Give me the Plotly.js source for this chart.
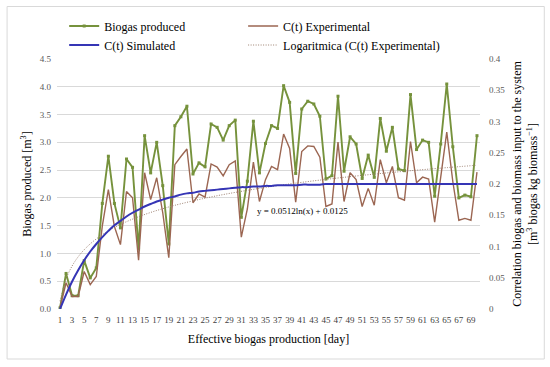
<!DOCTYPE html>
<html>
<head>
<meta charset="utf-8">
<script src="https://cdn.plot.ly/plotly-3.0.1.min.js"></script>
<style>html,body{margin:0;padding:0;background:#fff;}#chart{width:550px;height:367px;}</style>
</head>
<body>
<div id="chart"></div>
<script>
// Days (x categories)
const days = [1,2,3,4,5,6,7,8,9,10,11,12,13,14,15,16,17,18,19,20,21,22,23,24,25,26,27,28,29,30,31,32,33,34,35,36,37,38,39,40,41,42,43,44,45,46,47,48,49,50,51,52,53,54,55,56,57,58,59,60,61,62,63,64,65,66,67,68,69,70];
// Tick labels shown on x axis
const dayTicks = [1,3,5,7,9,11,13,15,17,19,21,23,25,27,29,31,33,35,37,39,41,43,45,47,49,51,53,55,57,59,61,63,65,67,69];

// Biogas produced [m3] (left axis)
const biogasProduced = [0.02,0.64,0.24,0.24,0.87,0.56,0.74,1.90,2.75,1.90,1.46,2.70,2.55,1.08,3.12,2.45,3.00,2.22,1.17,3.30,3.46,3.65,2.43,2.63,2.56,3.33,3.27,3.04,3.30,3.40,1.65,2.30,3.38,2.45,2.98,3.30,3.25,4.02,3.72,2.44,3.60,3.74,3.69,3.47,2.34,2.40,3.83,2.48,3.10,2.97,2.35,2.77,2.37,3.43,2.84,3.27,2.52,2.49,3.86,2.87,3.04,3.00,2.03,2.97,4.05,2.92,2.00,2.05,2.02,3.12];

// C(t) Experimental [m3 biogas / kg biomass] (right axis)
const ctExperimental = [0.002,0.042,0.020,0.020,0.060,0.039,0.052,0.133,0.191,0.132,0.103,0.188,0.178,0.078,0.218,0.175,0.210,0.154,0.082,0.231,0.244,0.256,0.170,0.184,0.179,0.232,0.227,0.213,0.231,0.237,0.115,0.160,0.235,0.172,0.207,0.228,0.223,0.280,0.257,0.171,0.252,0.261,0.260,0.243,0.164,0.168,0.267,0.172,0.218,0.207,0.164,0.193,0.166,0.239,0.202,0.228,0.178,0.174,0.268,0.202,0.211,0.208,0.139,0.207,0.283,0.204,0.142,0.145,0.142,0.219];

// C(t) Simulated (right axis)
const ctSimulated = [0.000,0.023,0.044,0.062,0.078,0.092,0.104,0.115,0.125,0.134,0.141,0.148,0.154,0.159,0.164,0.168,0.172,0.175,0.178,0.180,0.183,0.185,0.186,0.188,0.189,0.190,0.191,0.192,0.193,0.194,0.195,0.195,0.196,0.196,0.197,0.197,0.198,0.198,0.198,0.198,0.199,0.199,0.199,0.199,0.200,0.200,0.200,0.200,0.200,0.200,0.200,0.200,0.200,0.200,0.200,0.200,0.200,0.200,0.200,0.200,0.200,0.200,0.200,0.200,0.200,0.200,0.200,0.200,0.200,0.200];

// Logarithmic trendline of C(t) Experimental: y = 0.0512ln(x) + 0.0125 (tabulated values)
const trendDays = [1,2,3,4,5,6,7,8,9,10,12,14,16,18,20,25,30,35,40,45,50,55,60,65,70];
const trendValues = [0.0125,0.0480,0.0688,0.0835,0.0949,0.1042,0.1121,0.1190,0.1250,0.1304,0.1397,0.1476,0.1545,0.1605,0.1659,0.1773,0.1866,0.1945,0.2014,0.2074,0.2128,0.2177,0.2221,0.2262,0.2300];

const seriesNames = ["Biogas produced","C(t) Experimental","C(t) Simulated","Logaritmica (C(t) Experimental)"];

const FONT = "Liberation Serif, DejaVu Serif, serif";

const traces = [
  {x: days, y: ctExperimental, name: seriesNames[1], yaxis: 'y2', type: 'scatter', mode: 'lines',
   line: {color: '#9b6652', width: 1.4}, legend: 'legend2'},
  {x: days, y: biogasProduced, name: seriesNames[0], type: 'scatter', mode: 'lines+markers',
   line: {color: '#76923c', width: 1.9}, marker: {symbol: 'square', size: 3, color: '#76923c'},
   legend: 'legend'},
  {x: trendDays, y: trendValues, name: seriesNames[3], yaxis: 'y2', type: 'scatter', mode: 'lines',
   line: {color: '#9c8070', width: 1, dash: '1px,1.5px', shape: 'spline'}, legend: 'legend4'},
  {x: days, y: ctSimulated, name: seriesNames[2], yaxis: 'y2', type: 'scatter', mode: 'lines',
   line: {color: '#3535b5', width: 2, shape: 'spline'}, legend: 'legend3'}
];

const legendCommon = {orientation: 'h', xref: 'paper', yref: 'paper', xanchor: 'left', yanchor: 'middle',
  itemwidth: 30, tracegroupgap: 0,
  font: {family: FONT, size: 12, color: '#000000'}, bgcolor: 'rgba(0,0,0,0)'};

const layout = {
  width: 550, height: 367,
  paper_bgcolor: '#ffffff', plot_bgcolor: '#ffffff',
  margin: {l: 57, r: 70, t: 59, b: 58, autoexpand: false},
  font: {family: FONT, size: 9, color: '#595959'},
  showlegend: true,
  legend: Object.assign({}, legendCommon, {x: 0.017, y: 1.132}),
  legend2: Object.assign({}, legendCommon, {x: 0.44, y: 1.132}),
  legend3: Object.assign({}, legendCommon, {x: 0.017, y: 1.056}),
  legend4: Object.assign({}, legendCommon, {x: 0.44, y: 1.056}),
  xaxis: {type: 'linear', range: [0.5, 70.5], tickmode: 'array', tickvals: dayTicks,
          ticktext: dayTicks.map(String), tickangle: 0, showgrid: false, zeroline: false, showline: false,
          automargin: false, ticks: '', ticklabelstandoff: 4, tickfont: {family: FONT, size: 9, color: '#404040'},
          title: {text: 'Effective biogas production [day]', font: {family: FONT, size: 12, color: '#000000'}, standoff: 10}},
  yaxis: {range: [0, 4.5], dtick: 0.5, tick0: 0, tickformat: '.1f', showgrid: true, gridcolor: '#d9d9d9', gridwidth: 1,
          zeroline: false, showline: false, ticks: '', ticklabelstandoff: 5, automargin: false,
          tickfont: {family: FONT, size: 9, color: '#595959'},
          title: {text: 'Biogas produced [m<sup>3</sup>]', font: {family: FONT, size: 12, color: '#000000'}, standoff: 5}},
  yaxis2: {overlaying: 'y', side: 'right', range: [0, 0.4], dtick: 0.05, tick0: 0, showgrid: false,
           zeroline: false, showline: false, ticks: '', ticklabelstandoff: 8, automargin: false,
           tickfont: {family: FONT, size: 9, color: '#595959'},
           title: {text: 'Correlation biogas and biomass input to the system<br>[m<sup>3</sup> biogas kg biomass<sup>\u22121</sup>]',
                   font: {family: FONT, size: 12, color: '#000000'}, standoff: 8}},
  annotations: [
    {text: 'y = 0.0512ln(x) + 0.0125', x: 33.3, y: 0.157, xref: 'x', yref: 'y2', xanchor: 'left', yanchor: 'middle',
     showarrow: false, font: {family: FONT, size: 9, color: '#000000'}}
  ],
  shapes: [
    {type: 'rect', xref: 'paper', yref: 'paper', x0: -0.118, x1: 1.152, y0: -0.2, y1: 1.21,
     line: {color: '#d9d9d9', width: 1}, fillcolor: 'rgba(0,0,0,0)', layer: 'below'}
  ]
};

Plotly.newPlot('chart', traces, layout, {displayModeBar: false, staticPlot: true});
</script>
</body>
</html>
